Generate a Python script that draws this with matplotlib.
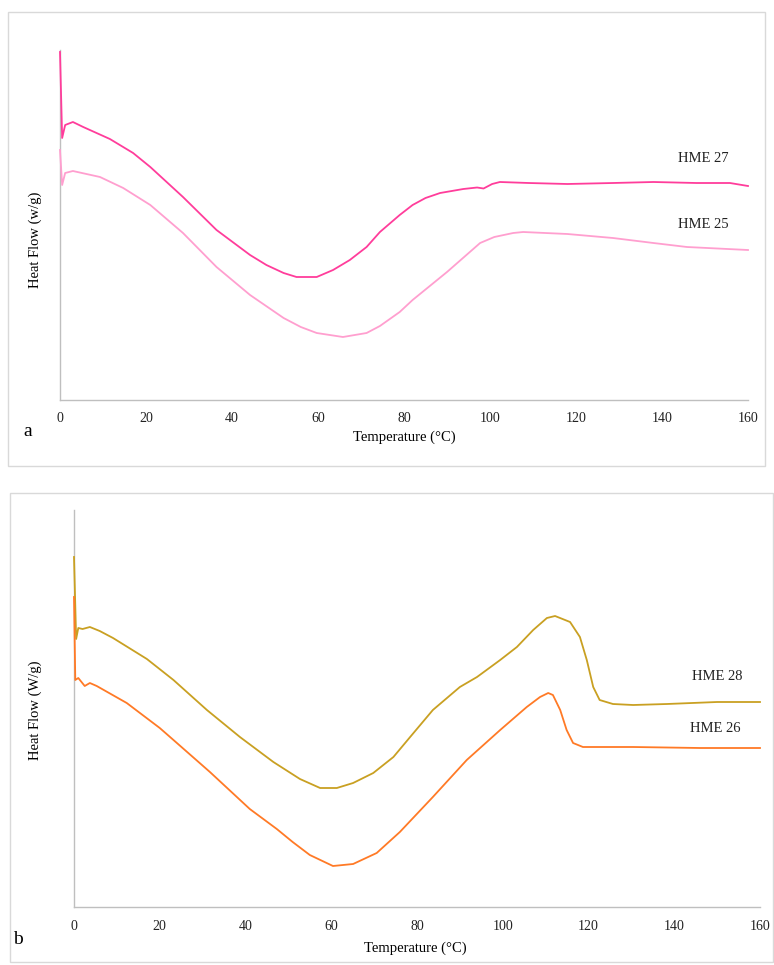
"""
DSC thermograms of HME formulations - two stacked panels (a, b)
"""
import matplotlib
matplotlib.use('Agg')
import matplotlib.pyplot as plt
from matplotlib.patches import Rectangle

# ---- panel a data (temperature in C, heat flow in arbitrary units) ----
t_hme27 = [0, 0.5, 1.2, 3, 5.4, 11.6, 17, 21, 28.6, 36.4, 44.2, 48, 52, 55, 59.7, 63.5,
           67.4, 71.3, 74.4, 79, 82, 85, 88.4, 93.8, 97, 98.5, 100.5, 102.3, 109, 118,
           128.6, 138, 148, 155.8, 160]
hf_hme27 = [34.8, 26.2, 27.5, 27.8, 27.3, 26.1, 24.7, 23.3, 20.3, 17.0, 14.5, 13.5, 12.7,
            12.3, 12.3, 13.0, 14.0, 15.3, 16.8, 18.5, 19.5, 20.2, 20.7, 21.1, 21.25, 21.15,
            21.6, 21.8, 21.7, 21.6, 21.7, 21.8, 21.7, 21.7, 21.4]

t_hme25 = [0, 0.5, 1.2, 3, 9.3, 14.7, 21, 28.6, 36.4, 44.2, 52, 56, 59.7, 65.8, 71.3,
           74.4, 79, 82, 86, 90, 97.7, 101, 105.4, 107.7, 118, 128.6, 138, 145.8, 160]
hf_hme25 = [25.0, 21.5, 22.7, 22.9, 22.3, 21.2, 19.5, 16.7, 13.3, 10.5, 8.2, 7.3, 6.7,
            6.3, 6.7, 7.4, 8.8, 10.0, 11.4, 12.8, 15.7, 16.3, 16.7, 16.8, 16.6, 16.2, 15.7,
            15.3, 15.0]

# ---- panel b data ----
t_hme28 = [0, 0.5, 1.0, 2, 3.7, 6, 9.1, 17, 23.2, 31, 38.7, 46.5, 52.7, 57.4, 61.3,
           65.1, 69.8, 74.5, 78.4, 83.7, 90, 94, 99.4, 103.3, 107.1, 110.3, 112.2,
           115.7, 118, 119.6, 121.1, 122.6, 125.7, 130.4, 138.3, 150, 160]
hf_hme28 = [35.0, 26.8, 27.9, 27.8, 28.0, 27.6, 26.9, 24.8, 22.7, 19.7, 17.0, 14.5,
            12.8, 11.9, 11.9, 12.4, 13.4, 15.0, 17.0, 19.7, 22.0, 23.0, 24.7, 26.0,
            27.7, 28.9, 29.1, 28.5, 27.0, 24.7, 22.0, 20.7, 20.3, 20.2, 20.3, 20.5,
            20.5]

t_hme26 = [0, 0.3, 1.0, 2.5, 3.7, 5.3, 12.3, 20, 23.2, 31.7, 41, 47.3, 51, 55, 60.4,
           65.1, 70.6, 76, 83.7, 91.6, 99.4, 105.6, 108.7, 110.6, 111.7, 113.4,
           114.9, 116.4, 118.7, 130.4, 146, 160]
hf_hme26 = [31.0, 22.7, 22.9, 22.1, 22.4, 22.1, 20.4, 17.9, 16.7, 13.5, 9.8, 7.8,
            6.5, 5.2, 4.1, 4.3, 5.4, 7.5, 11.0, 14.7, 17.7, 20.0, 21.0, 21.4, 21.2,
            19.7, 17.7, 16.4, 16.0, 16.0, 15.9, 15.9]

x_ticks = [0, 20, 40, 60, 80, 100, 120, 140, 160]

plt.rcParams['font.family'] = ['Liberation Serif', 'DejaVu Serif']

W, H = 774, 965
fig = plt.figure(figsize=(W / 100, H / 100), dpi=100)
fig.patch.set_facecolor('white')


def px_rect(x0, y0, x1, y1):
    # pixel box (top-left origin) -> figure fraction [left, bottom, width, height]
    return [x0 / W, 1 - y1 / H, (x1 - x0) / W, (y1 - y0) / H]


# light gray frames round each panel
for x0, y0, x1, y1 in [(8, 12, 765, 466), (10, 493, 773, 962)]:
    fig.patches.append(Rectangle((x0 / W, 1 - y1 / H), (x1 - x0) / W, (y1 - y0) / H,
                                 transform=fig.transFigure, fill=False,
                                 edgecolor='#d9d9d9', linewidth=1.0))

ax_a = fig.add_axes(px_rect(60, 50, 748, 400))
ax_b = fig.add_axes(px_rect(74, 510, 760, 907))

# lines above the spines so the start-up spikes show over the y axis
ax_a.plot(t_hme25, hf_hme25, color='#ff9fcf', linewidth=1.3, zorder=3, clip_on=False)
ax_a.plot(t_hme27, hf_hme27, color='#ff3d9b', linewidth=1.3, zorder=4, clip_on=False)
ax_a.set_ylim(0, 35)

ax_b.plot(t_hme28, hf_hme28, color='#c9a022', linewidth=1.3, zorder=3, clip_on=False)
ax_b.plot(t_hme26, hf_hme26, color='#ff7a26', linewidth=1.3, zorder=4, clip_on=False)
ax_b.set_ylim(0, 39.7)

for ax in (ax_a, ax_b):
    ax.set_xlim(0, 160)
    ax.set_xticks(x_ticks)
    ax.set_yticks([])
    ax.tick_params(axis='x', length=0, pad=9, labelsize=10, colors='#222222')
    ax.spines[['top', 'right']].set_visible(False)
    ax.spines[['left', 'bottom']].set_color('#bfbfbf')
    ax.spines[['left', 'bottom']].set_linewidth(1.0)
    ax.patch.set_visible(False)

# series labels
ax_a.text(149.5, 24.1, 'HME 27', ha='center', va='center', fontsize=10.5, color='#222222')
ax_a.text(149.5, 17.5, 'HME 25', ha='center', va='center', fontsize=10.5, color='#222222')
ax_b.text(150, 23.0, 'HME 28', ha='center', va='center', fontsize=10.5, color='#222222')
ax_b.text(149.5, 17.8, 'HME 26', ha='center', va='center', fontsize=10.5, color='#222222')

# axis titles and panel letters
fig.text(404 / W, 1 - 437 / H, 'Temperature (°C)', ha='center', va='center', fontsize=10.5)
fig.text(415 / W, 1 - 948 / H, 'Temperature (°C)', ha='center', va='center', fontsize=10.5)
fig.text(35 / W, 1 - 240 / H, 'Heat Flow (w/g)', ha='center', va='center',
         rotation=90, fontsize=10.5)
fig.text(35 / W, 1 - 710 / H, 'Heat Flow (W/g)', ha='center', va='center',
         rotation=90, fontsize=10.5)
fig.text(28 / W, 1 - 432 / H, 'a', ha='center', va='center', fontsize=14)
fig.text(18 / W, 1 - 940 / H, 'b', ha='center', va='center', fontsize=14)

fig.savefig('out.png', dpi=100, facecolor='white')
